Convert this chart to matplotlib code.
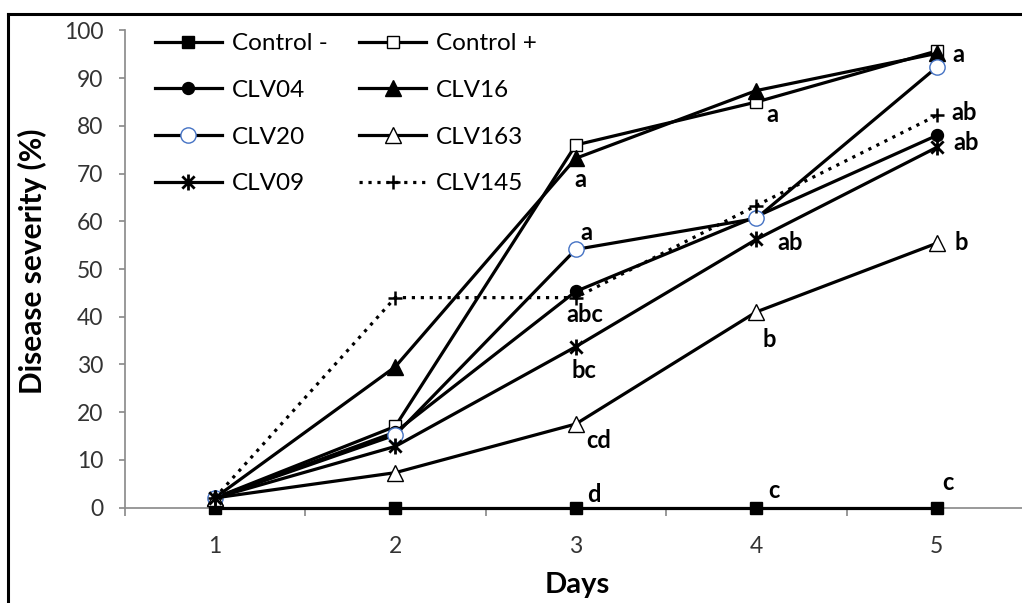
import matplotlib
matplotlib.use("Agg")
from matplotlib import pyplot as plt
from matplotlib.path import Path
from matplotlib.lines import Line2D

plt.rcParams['font.family'] = ['Lato', 'DejaVu Sans']

days = [1, 2, 3, 4, 5]

control_neg = [0, 0, 0, 0, 0]
control_pos = [2, 17, 76, 85, 95.7]
clv04 = [2, 15.8, 45.3, 61, 78]
clv16 = [2, 29.5, 73.2, 87.4, 95.2]
clv20 = [2, 15.2, 54.1, 60.6, 92.3]
clv163 = [2, 7.3, 17.5, 41, 55.4]
clv09 = [2, 12.8, 33.7, 56.2, 75.5]
clv145 = [2, 44, 44, 63.3, 82.2]

series_names = ['Control -', 'Control +', 'CLV04', 'CLV16', 'CLV20', 'CLV163', 'CLV09', 'CLV145']
series_values = [control_neg, control_pos, clv04, clv16, clv20, clv163, clv09, clv145]

y_ticks = [0, 10, 20, 30, 40, 50, 60, 70, 80, 90, 100]

# significance letters: (day, series it sits next to, letter)
sig_days = [3, 3, 3, 3, 3, 3, 4, 4, 4, 4, 5, 5, 5, 5, 5]
sig_series = ['CLV16', 'CLV20', 'CLV04', 'CLV09', 'CLV163', 'Control -',
              'Control +', 'CLV09', 'CLV163', 'Control -',
              'CLV16', 'CLV145', 'CLV04', 'CLV163', 'Control -']
sig_letters = ['a', 'a', 'abc', 'bc', 'cd', 'd',
               'a', 'ab', 'b', 'c',
               'a', 'ab', 'ab', 'b', 'c']

# offsets of the letters from their point (points, text centre / baseline)
sig_offsets = [(3.6, -20.7), (7.7, 6.8), (6.5, -21.8), (6.1, -22.5), (16.6, -17.3), (13.3, 4),
               (11.5, -14.2), (24.1, -7.6), (9.4, -25.2), (13, 6.8),
               (15.8, -6), (19.4, -3.3), (21.4, -10.5), (17.8, -4.9), (8.1, 12.6)]

# asterisk marker like excel's star
star = Path([(-1, -1), (1, 1), (-1, 1), (1, -1), (0, -1.3), (0, 1.3)],
            [Path.MOVETO, Path.LINETO, Path.MOVETO, Path.LINETO, Path.MOVETO, Path.LINETO])

styles = {
    'Control -': dict(marker='s', ms=8.6, mfc='black', mec='black', ls='-'),
    'Control +': dict(marker='s', ms=8.6, mfc='white', mec='black', mew=1, ls='-'),
    'CLV04': dict(marker='o', ms=8.6, mfc='black', mec='black', ls='-'),
    'CLV16': dict(marker='^', ms=11, mfc='black', mec='black', ls='-'),
    'CLV20': dict(marker='o', ms=11, mfc='white', mec='#4472C4', mew=1, ls='-'),
    'CLV163': dict(marker='^', ms=11, mfc='white', mec='black', mew=1, ls='-'),
    'CLV09': dict(marker=star, ms=11.5, mfc='none', mec='black', mew=2, ls='-'),
    'CLV145': dict(marker='+', ms=10, mfc='black', mec='black', mew=1.8, ls=(0, (1, 1.8))),
}

fig = plt.figure(figsize=(10.22, 6.03), dpi=100)
ax = fig.add_axes([124.5 / 1022, 95.5 / 603, 902.5 / 1022, 477 / 603])

gray = '#8c8c8c'
lines = {}
for name, vals in zip(series_names, series_values):
    st = styles[name]
    ln, = ax.plot(days, vals, color='black', lw=2.3, clip_on=False, zorder=3,
                  dash_capstyle='butt', **st)
    lines[name] = ln

for d, s, letter, (dx, dy) in zip(sig_days, sig_series, sig_letters, sig_offsets):
    v = series_values[series_names.index(s)][days.index(d)]
    ax.annotate(letter, (d, v), xytext=(dx, dy), textcoords='offset points',
                ha='center', va='baseline', fontsize=17, fontweight='bold', color='black')

ax.set_xlim(0.5, 5.5)
ax.set_ylim(0, 100)
ax.set_yticks(y_ticks)
ax.set_xticks(days)
ax.set_xticks([0.5, 1.5, 2.5, 3.5, 4.5, 5.5], minor=True)
ax.tick_params(axis='x', which='major', length=0, pad=20.5, labelsize=16.5, labelcolor='#333333')
ax.tick_params(axis='x', which='minor', length=6, width=1.25, color=gray, direction='out')
ax.tick_params(axis='y', length=4.3, width=1.25, color=gray, pad=11, labelsize=16.5,
               labelcolor='#333333')

for sp in ['top', 'right']:
    ax.spines[sp].set_visible(False)
for sp in ['left', 'bottom']:
    ax.spines[sp].set_color(gray)
    ax.spines[sp].set_linewidth(1.25)

ax.set_xlabel('Days', fontsize=21, fontweight='bold', color='black')
ax.xaxis.set_label_coords(0.5017, -0.135)
ax.set_ylabel('Disease severity (%)', fontsize=21.5, fontweight='bold', color='black')
ax.yaxis.set_label_coords(-0.0856, 0.517)

order = ['Control -', 'CLV04', 'CLV20', 'CLV09', 'Control +', 'CLV16', 'CLV163', 'CLV145']
ax.legend([lines[n] for n in order], order, ncol=2, frameon=False, fontsize=17.5,
          loc='upper left', bbox_to_anchor=(155 / 1022, 1 - 33 / 603),
          bbox_transform=fig.transFigure, borderpad=0, borderaxespad=0,
          handlelength=2.75, handletextpad=0.41, columnspacing=1.3, labelspacing=1.06,
          numpoints=1)

# black border of the original picture (left and top)
fig.add_artist(Line2D([8 / 1022, 8 / 1022], [0, 1 - 13.5 / 603], color='black', lw=2.2,
                      transform=fig.transFigure, solid_capstyle='projecting'))
fig.add_artist(Line2D([8 / 1022, 1], [1 - 13.5 / 603, 1 - 13.5 / 603], color='black', lw=2.2,
                      transform=fig.transFigure, solid_capstyle='projecting'))

fig.savefig('out.png', dpi=100)
